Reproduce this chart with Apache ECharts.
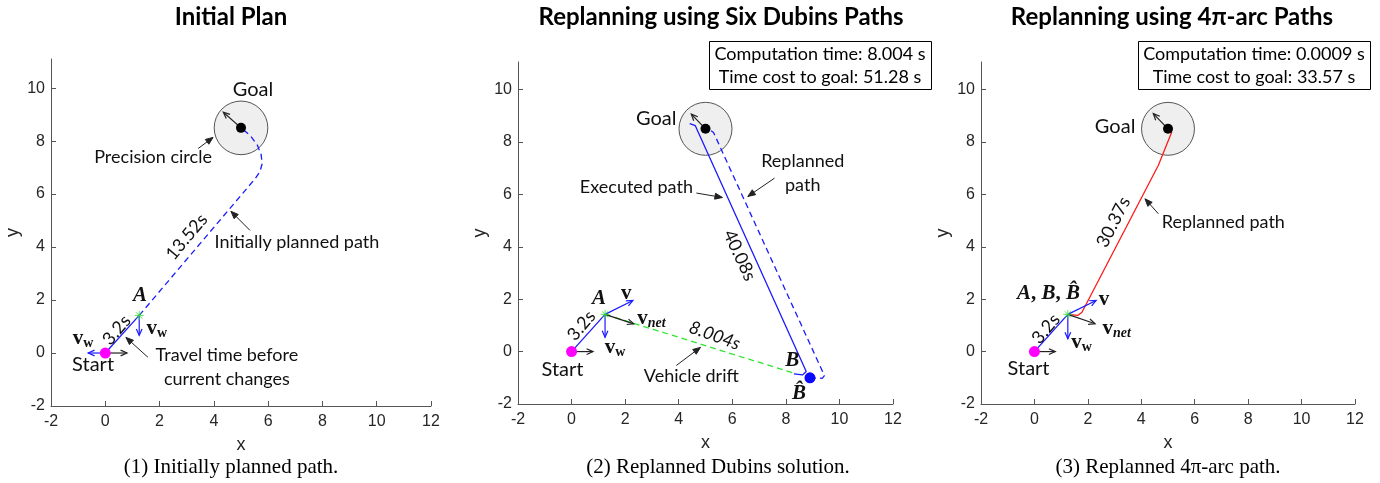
<!DOCTYPE html>
<html>
<head>
<meta charset="utf-8">
<script src="https://cdn.jsdelivr.net/npm/echarts@6/dist/echarts.min.js"></script>
<style>
  html, body { margin: 0; padding: 0; background: #fff; }
  #chart { width: 1380px; height: 483px; }
</style>
</head>
<body>
<div id="chart"></div>
<script>
// -----------------------------
// DATA
// -----------------------------
const xTicks = [-2, 0, 2, 4, 6, 8, 10, 12];
const yTicks = [-2, 0, 2, 4, 6, 8, 10];

const panelTitles = ["Initial Plan", "Replanning using Six Dubins Paths", "Replanning using 4\u03c0-arc Paths"];
const panelCaptions = ["(1) Initially planned path.", "(2) Replanned Dubins solution.", "(3) Replanned 4\u03c0-arc path."];
const infoBoxes = [null, "Computation time: 8.004 s\nTime cost to goal: 51.28 s", "Computation time: 0.0009 s\nTime cost to goal: 33.57 s"];

const startPoint = [0, 0];
const pointA = [1.25, 1.42];
const goalPoint = [5, 8.5];
const precisionRadius = 1;
const pointBhat = [8.9, -1.0];

// travelled before the current changes (3.2 s)
const travelBefore = [[0, 0], [1.25, 1.42]];
// (1) initial plan, dashed
const initialPlan = [[1.25, 1.42], [5.52, 6.58], [5.7, 6.85], [5.78, 7.15], [5.74, 7.5], [5.6, 7.85], [5.35, 8.2], [5.0, 8.5]];
// (2) dubins
const vehicleDrift = [[1.25, 1.42], [8.35, -0.84]];
const dubinsExecuted = [[8.3, -0.85], [8.62, -0.89], [8.76, -0.76], [4.62, 8.62], [4.41, 8.7]];
const dubinsReplanned = [[8.9, -1.0], [9.36, -1.02], [9.44, -0.92], [5.3, 8.36], [5.1, 8.5]];
// (3) 4pi-arc
const arcPath = [[1.25, 1.42], [1.62, 1.38], [1.78, 1.5], [4.64, 7.11], [5.14, 8.38], [5.0, 8.5]];

// vectors [from, to]
const goalHeading = [[[5, 8.5], [4.35, 9.09]], [[5, 8.5], [4.47, 9.06]], [[5, 8.5], [4.45, 9.08]]];
const startHeading = [[[0, 0], [0.8, 0]], [[0, 0], [0.8, 0]], [[0, 0], [0.78, 0]]];
const currentAtStart = [[[0, 0], [-0.63, 0]], null, null];
const currentAtA = [[[1.25, 1.42], [1.25, 0.67]], [[1.25, 1.42], [1.25, 0.55]], [[1.25, 1.42], [1.25, 0.49]]];
const velocityAtA = [null, [[1.25, 1.42], [2.29, 1.95]], [[1.25, 1.42], [2.31, 1.95]]];
const netAtA = [null, [[1.25, 1.42], [2.32, 1.06]], [[1.25, 1.42], [2.27, 1.06]]];

// callout arrows [from, to]
const callouts = [
  [[[3.42, 7.72], [3.97, 8.14]], [[5.33, 4.63], [4.63, 5.35]], [[1.57, -0.16], [0.76, 0.59]]],
  [[[4.66, 6.05], [5.63, 5.88]], [[7.58, 6.62], [6.58, 5.92]], [[3.91, -0.53], [4.81, 0.16]]],
  [[[4.64, 5.26], [4.14, 5.83]]]
];

// text labels: [x, y, text, kind, rotation deg]
const labels = [
  [
    [5.44, 9.94, "Goal", "big", 0],
    [1.76, 7.38, "Precision circle", "note", 0],
    [7.06, 4.18, "Initially planned path", "note", 0],
    [4.48, -0.54, "Travel time before\ncurrent changes", "note", 0],
    [-0.45, -0.43, "Start", "big", 0],
    [1.28, 2.18, "{it|A}", "sym", 0],
    [-0.82, 0.55, "{b|v}{s|w}", "sym", 0],
    [1.9, 0.93, "{b|v}{s|w}", "sym", 0],
    [0.42, 0.86, "3.2s", "time", 50],
    [3.0, 4.38, "13.52s", "time", 50]
  ],
  [
    [3.16, 8.9, "Goal", "big", 0],
    [2.42, 6.28, "Executed path", "note", 0],
    [8.63, 6.8, "Replanned\npath", "note", 0],
    [4.47, -0.92, "Vehicle drift", "note", 0],
    [8.24, -0.34, "{it|B}", "sym", 0],
    [8.49, -1.62, "{it|B\u0302}", "sym", 0],
    [-0.34, -0.7, "Start", "big", 0],
    [1.02, 2.01, "{it|A}", "sym", 0],
    [2.04, 2.23, "{b|v}", "sym", 0],
    [2.98, 1.25, "{b|v}{si|net}", "sym", 0],
    [1.62, 0.16, "{b|v}{s|w}", "sym", 0],
    [0.37, 0.99, "3.2s", "time", 50],
    [6.27, 3.67, "40.08s", "time", -65],
    [5.34, 0.61, "8.004s", "itime", -20]
  ],
  [
    [3.02, 8.6, "Goal", "big", 0],
    [7.07, 4.94, "Replanned path", "note", 0],
    [0.53, 2.2, "{it|A}{p|, }{it|B}{p|, }{it|B\u0302}", "sym", 0],
    [2.6, 1.98, "{b|v}", "sym", 0],
    [3.08, 0.87, "{b|v}{si|net}", "sym", 0],
    [1.76, 0.36, "{b|v}{s|w}", "sym", 0],
    [-0.22, -0.66, "Start", "big", 0],
    [0.43, 0.87, "3.2s", "time", 50],
    [2.96, 4.94, "30.37s", "time", 63]
  ]
];

// -----------------------------
// STYLE
// -----------------------------
const BLUE = "#1a1aff";
const GRIDS = [
  { left: 51, right: 949, top: 59, bottom: 77, ymax: 11.1 },
  { left: 518, right: 487, top: 62, bottom: 79, ymax: 11.05 },
  { left: 981, right: 25, top: 62, bottom: 79, ymax: 11.05 }
];
const SANS = "Lato, 'Open Sans', sans-serif";
const SERIF = "'Liberation Serif', 'DejaVu Serif', serif";
const TEXT_FONT = {
  big: "20px " + SANS,
  note: "18px " + SANS,
  time: "18px " + SANS,
  itime: "italic 18px " + SANS,
  sym: "bold 20px " + SERIF
};
const RICH = {
  b: { font: "bold 21px " + SERIF, fill: "#111" },
  it: { font: "italic bold 21px " + SERIF, fill: "#111" },
  p: { font: "bold 21px " + SERIF, fill: "#111" },
  s: { font: "bold 14px " + SERIF, fill: "#111", padding: [10, 0, 0, 0] },
  si: { font: "italic bold 14px " + SERIF, fill: "#111", padding: [10, 0, 0, 0] }
};

// -----------------------------
// SERIES BUILDERS
// -----------------------------
function pathSeries(g, pts, color, dashed) {
  return {
    type: "line", xAxisIndex: g, yAxisIndex: g, data: pts, showSymbol: false,
    silent: true, z: 3, animation: false,
    lineStyle: { color, width: 1.3, type: dashed ? [6, 4] : "solid" }
  };
}

function dotSeries(g, pt, color, size, z) {
  return {
    type: "scatter", xAxisIndex: g, yAxisIndex: g, data: [pt], symbolSize: size,
    silent: true, z: z || 6, itemStyle: { color, opacity: 1 }
  };
}

function starSeries(g, pt) {
  return {
    type: "scatter", xAxisIndex: g, yAxisIndex: g, data: [pt], silent: true, z: 7,
    symbol: "path://M5 0L5 10M0 5L10 5M1.5 1.5L8.5 8.5M1.5 8.5L8.5 1.5",
    symbolSize: 9,
    itemStyle: { color: "rgba(0,0,0,0)", borderColor: "#33dd33", borderWidth: 1 }
  };
}

function circleSeries(g) {
  return {
    type: "custom", xAxisIndex: g, yAxisIndex: g, silent: true, z: 1,
    data: [[goalPoint[0], goalPoint[1], precisionRadius]],
    renderItem: (params, api) => {
      const c = api.coord([api.value(0), api.value(1)]);
      const s = api.size([api.value(2), api.value(2)]);
      return {
        type: "circle",
        shape: { cx: c[0], cy: c[1], r: (s[0] + s[1]) / 2 },
        style: { fill: "#efefef", stroke: "#555", lineWidth: 1 }
      };
    }
  };
}

function arrowSeries(g, arrows, color, filled) {
  const list = arrows.filter(Boolean);
  return {
    type: "custom", xAxisIndex: g, yAxisIndex: g, silent: true, z: filled ? 8 : 5,
    encode: { x: [0, 2], y: [1, 3] },
    data: list.map(a => [a[0][0], a[0][1], a[1][0], a[1][1]]),
    renderItem: (params, api) => {
      const p1 = api.coord([api.value(0), api.value(1)]);
      const p2 = api.coord([api.value(2), api.value(3)]);
      const ang = Math.atan2(p2[1] - p1[1], p2[0] - p1[0]);
      const L = filled ? 8 : 7;
      const w = filled ? 0.38 : 0.42;
      const h1 = [p2[0] - L * Math.cos(ang - w), p2[1] - L * Math.sin(ang - w)];
      const h2 = [p2[0] - L * Math.cos(ang + w), p2[1] - L * Math.sin(ang + w)];
      const head = filled
        ? { type: "polygon", shape: { points: [h1, p2, h2] }, style: { fill: color, stroke: color, lineWidth: 1 } }
        : { type: "polyline", shape: { points: [h1, p2, h2] }, style: { fill: null, stroke: color, lineWidth: 1.2 } };
      return {
        type: "group",
        children: [
          { type: "line", shape: { x1: p1[0], y1: p1[1], x2: p2[0], y2: p2[1] }, style: { stroke: color, lineWidth: filled ? 1 : 1.2 } },
          head
        ]
      };
    }
  };
}

function labelSeries(g, items) {
  return {
    type: "custom", xAxisIndex: g, yAxisIndex: g, silent: true, z: 10,
    data: items.map(t => [t[0], t[1]]),
    renderItem: (params, api) => {
      const t = items[params.dataIndex];
      const p = api.coord([api.value(0), api.value(1)]);
      return {
        type: "text",
        x: p[0], y: p[1],
        rotation: t[4] * Math.PI / 180,
        style: {
          text: t[2], x: 0, y: 0,
          font: TEXT_FONT[t[3]],
          fill: "#111",
          align: "center", verticalAlign: "middle",
          lineHeight: t[3] === "note" ? 24 : undefined,
          rich: RICH
        }
      };
    }
  };
}

// -----------------------------
// CHART
// -----------------------------
const chart = echarts.init(document.getElementById("chart"), null, { renderer: "canvas" });

const grid = GRIDS.map(g => ({ left: g.left, right: g.right, top: g.top, bottom: g.bottom, containLabel: false }));

const xAxis = GRIDS.map((g, i) => ({
  gridIndex: i, type: "value", min: -2, max: 12, interval: 2,
  name: "x", nameLocation: "middle", nameGap: 30,
  nameTextStyle: { fontFamily: "Liberation Sans", fontSize: 18, color: "#262626" },
  axisLine: { show: true, onZero: false, lineStyle: { color: "#555", width: 1 } },
  axisTick: { show: true, inside: true, length: 5, lineStyle: { color: "#555" }, customValues: xTicks },
  axisLabel: { fontFamily: "Liberation Sans", fontSize: 16, color: "#262626", margin: 8, customValues: xTicks },
  splitLine: { show: false }
}));

const yAxis = GRIDS.map((g, i) => ({
  gridIndex: i, type: "value", min: -2, max: g.ymax, interval: 2,
  name: "y", nameLocation: "middle", nameGap: 29, nameRotate: 90,
  nameTextStyle: { fontFamily: "Liberation Sans", fontSize: 18, color: "#262626" },
  axisLine: { show: true, onZero: false, lineStyle: { color: "#555", width: 1 } },
  axisTick: { show: true, inside: true, length: 5, lineStyle: { color: "#555" }, customValues: yTicks },
  axisLabel: { fontFamily: "Liberation Sans", fontSize: 16, color: "#262626", margin: 6, customValues: yTicks },
  splitLine: { show: false }
}));

const series = [];
for (let i = 0; i < 3; i++) {
  series.push(circleSeries(i));
  series.push(pathSeries(i, travelBefore, BLUE, false));
  if (i === 0) {
    series.push(pathSeries(i, initialPlan, BLUE, true));
  } else if (i === 1) {
    series.push(pathSeries(i, vehicleDrift, "#2ee62e", true));
    series.push(pathSeries(i, dubinsExecuted, BLUE, false));
    series.push(pathSeries(i, dubinsReplanned, BLUE, true));
    series.push(dotSeries(i, pointBhat, "#0a0aff", 11));
  } else {
    series.push(pathSeries(i, arcPath, "#ff1a1a", false));
  }
  series.push(arrowSeries(i, [goalHeading[i], startHeading[i], netAtA[i]], "#222", false));
  series.push(arrowSeries(i, [currentAtStart[i], currentAtA[i], velocityAtA[i]], BLUE, false));
  series.push(arrowSeries(i, callouts[i], "#222", true));
  series.push(dotSeries(i, startPoint, "#ff00ff", 11));
  series.push(dotSeries(i, goalPoint, "#000", 10));
  series.push(starSeries(i, pointA));
  series.push(labelSeries(i, labels[i]));
}

// titles, captions and info boxes
const centers = [231, 721, 1172];
const graphic = [];
panelTitles.forEach((t, i) => {
  graphic.push({ type: "text", x: centers[i], y: 17, silent: true,
    style: { text: t, font: "bold 24px " + SANS, fill: "#000", align: "center", verticalAlign: "middle" } });
});
const captionCenters = [231, 718, 1168];
panelCaptions.forEach((t, i) => {
  graphic.push({ type: "text", x: captionCenters[i], y: 467, silent: true,
    style: { text: t, font: "21px " + SERIF, fill: "#000", align: "center", verticalAlign: "middle" } });
});
const boxes = [null, { x: 709, y: 41, w: 222, h: 48 }, { x: 1138, y: 41, w: 232, h: 48 }];
infoBoxes.forEach((t, i) => {
  if (!t) return;
  const b = boxes[i];
  graphic.push({ type: "rect", silent: true, shape: { x: b.x + 0.5, y: b.y + 0.5, width: b.w, height: b.h },
    style: { fill: "#fff", stroke: "#000", lineWidth: 1 }, z: 20 });
  graphic.push({ type: "text", silent: true, x: b.x + b.w / 2, y: b.y + b.h / 2 + 1, z: 21,
    style: { text: t, font: "18px " + SANS, lineHeight: 23, fill: "#000", align: "center", verticalAlign: "middle" } });
});

chart.setOption({
  animation: false,
  backgroundColor: "#fff",
  grid, xAxis, yAxis, series, graphic
});
</script>
</body>
</html>
